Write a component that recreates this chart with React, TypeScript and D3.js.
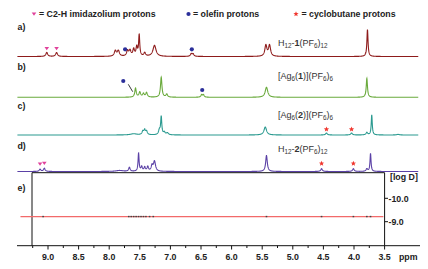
import React from "react";
import * as d3 from "d3";

// ---------- data ----------
// peaks: [ppm, intensity, half-width(ppm)]
const peaksA: [number, number, number][] = [
  [9.02, 4, 0.018], [8.86, 4, 0.018],
  [7.9, 5.5, 0.02], [7.85, 5.5, 0.02], [7.7, 5.5, 0.018], [7.66, 5.5, 0.018],
  [7.6, 7, 0.016], [7.55, 9, 0.014], [7.51, 21, 0.011], [7.42, 3.5, 0.016],
  [7.26, 11, 0.03], [6.66, 2.5, 0.016], [6.63, 2.5, 0.016],
  [5.44, 11, 0.02], [5.38, 11, 0.02], [3.78, 27, 0.011],
];
const peaksB: [number, number, number][] = [
  [7.57, 9, 0.014], [7.5, 5, 0.016], [7.44, 3.5, 0.016], [7.39, 4.5, 0.016],
  [7.15, 20, 0.014], [7.06, 3, 0.016], [6.49, 2.5, 0.014], [6.46, 2.5, 0.014],
  [5.43, 10, 0.025], [3.79, 19, 0.012],
];
const peaksC: [number, number, number][] = [
  [7.6, 1.2, 0.06], [7.45, 3.5, 0.016], [7.42, 4.5, 0.014], [7.39, 3.5, 0.016],
  [7.18, 4.5, 0.016], [7.15, 18, 0.011], [7.1, 2.5, 0.016], [7.05, 2, 0.02],
  [5.45, 8, 0.025], [4.45, 2, 0.016], [4.04, 2, 0.016],
  [3.79, 2.5, 0.016], [3.71, 20, 0.01], [3.28, 0.6, 0.025],
];
const peaksD: [number, number, number][] = [
  [9.13, 2.2, 0.016], [9.06, 3.2, 0.016], [7.83, 1, 0.07], [7.67, 4, 0.014],
  [7.52, 18, 0.01], [7.47, 4.5, 0.014], [7.42, 4, 0.014], [7.37, 4.5, 0.014],
  [7.3, 5.5, 0.016], [7.26, 10, 0.02], [5.43, 16, 0.016],
  [4.53, 2.8, 0.016], [4.01, 2.8, 0.016], [3.79, 2.5, 0.016], [3.73, 18, 0.01],
];

// markers: [ppm]
const triA = [9.02, 8.86];
const olefinA = [7.74, 6.65];
const olefinB = [7.77, 6.48];
const starC = [4.45, 4.04];
const triD = [9.13, 9.06];
const starD = [4.53, 4.01];

// DOSY
const dosyLogD = -9.22;
const dosyPts = [9.08, 7.68, 7.64, 7.6, 7.56, 7.52, 7.48, 7.44, 7.4, 7.34, 7.28, 5.43, 4.53, 4.01, 3.79, 3.73];

const xTicks = [9.0, 8.5, 8.0, 7.5, 7.0, 6.5, 6.0, 5.5, 5.0, 4.5, 4.0, 3.5];
const yTicks = [-10.0, -9.0];

// ---------- layout ----------
const W = 428, H = 269;
const x = d3.scaleLinear().domain([9.0, 3.5]).range([48, 384.6]);
const specDomain: [number, number] = [9.5, 2.95];

const spectra = [
  { peaks: peaksA, base: 56.5, color: "#8e1b1b" },
  { peaks: peaksB, base: 97.3, color: "#6aaa3c" },
  { peaks: peaksC, base: 135, color: "#2b9a90" },
  { peaks: peaksD, base: 171.5, color: "#5b41a6" },
];

function buildLine(peaks: [number, number, number][], base: number) {
  const y = d3.scaleLinear().domain([0, 30]).range([base, base - 30]);
  const pts: [number, number][] = [];
  const n = 3300;
  for (let i = 0; i <= n; i++) {
    const p = specDomain[0] + (specDomain[1] - specDomain[0]) * (i / n);
    let v = 0;
    for (const [c, a, w] of peaks) v += (a * w * w) / ((p - c) * (p - c) + w * w);
    pts.push([p, v]);
  }
  return d3.line<[number, number]>().x((d) => x(d[0])).y((d) => y(d[1]))(pts) || "";
}

const yD = d3.scaleLinear().domain([-10.0, -9.0]).range([198.3, 221.7]);

const FONT = "Liberation Sans, Arial, sans-serif";

function Tri({ cx, cy }: { cx: number; cy: number }) {
  return <path d={`M${cx - 2.3},${cy - 1.6} L${cx + 2.3},${cy - 1.6} L${cx},${cy + 1.8} Z`} fill="#e0419b" />;
}
function Dot({ cx, cy }: { cx: number; cy: number }) {
  return <circle cx={cx} cy={cy} r={2.1} fill="#2b2f9a" />;
}
function Star({ cx, cy }: { cx: number; cy: number }) {
  const pts = d3.range(10).map((i) => {
    const r = i % 2 === 0 ? 2.8 : 1.2;
    const a = (Math.PI / 5) * i - Math.PI / 2;
    return `${cx + r * Math.cos(a)},${cy + r * Math.sin(a)}`;
  });
  return <polygon points={pts.join(" ")} fill="#f0362e" />;
}

export default function App() {
  const minor = d3.range(9.25, 3.25, -0.5);
  const sub = { fontSize: 6.3 } as const;
  return (
    <svg width={W} height={H} style={{ position: "absolute", left: 0, top: 0, background: "#fff" }} fontFamily={FONT}>
      {/* legend */}
      <Tri cx={34} cy={14} />
      <text x={39} y={17.3} fontSize={8.8} fontWeight="bold" fill="#222">= C2-H imidazolium protons</text>
      <Dot cx={188.5} cy={14} />
      <text x={193} y={17.3} fontSize={8.8} fontWeight="bold" fill="#222">= olefin protons</text>
      <Star cx={296} cy={14} />
      <text x={301.5} y={17.3} fontSize={8.8} fontWeight="bold" fill="#222">= cyclobutane protons</text>

      {/* panel labels */}
      {[["a)", 29.5], ["b)", 70], ["c)", 108.5], ["d)", 148.5], ["e)", 190.5]].map(([t, yy]) => (
        <text key={t as string} x={17.5} y={yy as number} fontSize={8.8} fontWeight="bold" fill="#222">{t}</text>
      ))}

      {/* spectra */}
      {spectra.map((s, i) => (
        <path key={i} d={buildLine(s.peaks, s.base)} fill="none" stroke={s.color} strokeWidth={1.1} />
      ))}

      {/* markers */}
      {triA.map((p) => <Tri key={"ta" + p} cx={x(p)} cy={48.5} />)}
      {olefinA.map((p) => <Dot key={"oa" + p} cx={x(p)} cy={49.3} />)}
      <Dot cx={x(olefinB[0])} cy={81} />
      <line x1={128.3} y1={84.3} x2={132.7} y2={91.7} stroke="#222" strokeWidth={0.9} />
      <Dot cx={x(olefinB[1])} cy={90} />
      {starC.map((p) => <Star key={"sc" + p} cx={x(p)} cy={129.3} />)}
      {triD.map((p, i) => <Tri key={"td" + p} cx={x(p)} cy={164 - i * 0.7} />)}
      {starD.map((p) => <Star key={"sd" + p} cx={x(p)} cy={163.5} />)}

      {/* compound labels */}
      <text x={278} y={46} fontSize={9} fill="#333">
        H<tspan dy={2} style={sub}>12</tspan><tspan dy={-2}>-</tspan><tspan fontWeight="bold">1</tspan>(PF<tspan dy={2} style={sub}>6</tspan><tspan dy={-2}>)</tspan><tspan dy={2} style={sub}>12</tspan>
      </text>
      <text x={278} y={79} fontSize={9} fill="#333">
        [Ag<tspan dy={2} style={sub}>6</tspan><tspan dy={-2}>(</tspan><tspan fontWeight="bold">1</tspan>)](PF<tspan dy={2} style={sub}>6</tspan><tspan dy={-2}>)</tspan><tspan dy={2} style={sub}>6</tspan>
      </text>
      <text x={278} y={118} fontSize={9} fill="#333">
        [Ag<tspan dy={2} style={sub}>6</tspan><tspan dy={-2}>(</tspan><tspan fontWeight="bold">2</tspan>)](PF<tspan dy={2} style={sub}>6</tspan><tspan dy={-2}>)</tspan><tspan dy={2} style={sub}>6</tspan>
      </text>
      <text x={278} y={152} fontSize={9} fill="#333">
        H<tspan dy={2} style={sub}>12</tspan><tspan dy={-2}>-</tspan><tspan fontWeight="bold">2</tspan>(PF<tspan dy={2} style={sub}>6</tspan><tspan dy={-2}>)</tspan><tspan dy={2} style={sub}>12</tspan>
      </text>

      {/* DOSY panel */}
      <line x1={32} y1={172.7} x2={384.6} y2={172.7} stroke="#111" strokeWidth={1} />
      <line x1={32} y1={172.7} x2={32} y2={245.7} stroke="#111" strokeWidth={1} />
      <line x1={384.6} y1={172.7} x2={384.6} y2={245.7} stroke="#111" strokeWidth={1} />
      {yTicks.map((t) => (
        <g key={t}>
          <line x1={384.6} x2={388} y1={yD(t)} y2={yD(t)} stroke="#111" />
          <text x={388.5} y={yD(t) + 3.2} fontSize={8.8} fontWeight="bold" fill="#222">{t.toFixed(1)}</text>
        </g>
      ))}
      <text x={390} y={179.5} fontSize={8.8} fontWeight="bold" fill="#222">[log D]</text>
      <line x1={x(9.45)} x2={x(3.52)} y1={yD(dosyLogD)} y2={yD(dosyLogD)} stroke="#f26a6a" strokeWidth={1.3} />
      {dosyPts.map((p, i) => (
        <rect key={i} x={x(p) - 0.8} y={yD(dosyLogD) - 0.7} width={1.6} height={1.4} fill="#444" />
      ))}

      {/* x axis */}
      <line x1={17} x2={420} y1={245.7} y2={245.7} stroke="#111" strokeWidth={1} />
      {xTicks.map((t) => (
        <g key={t}>
          <line x1={x(t)} x2={x(t)} y1={245.7} y2={249.5} stroke="#111" />
          <text x={x(t)} y={259.5} fontSize={8.8} fontWeight="bold" textAnchor="middle" fill="#222">{t.toFixed(1)}</text>
        </g>
      ))}
      {minor.map((t) => (
        <line key={"m" + t} x1={x(t)} x2={x(t)} y1={245.7} y2={248} stroke="#111" />
      ))}
      <text x={399} y={259.5} fontSize={8.8} fontWeight="bold" fill="#222">ppm</text>
    </svg>
  );
}
